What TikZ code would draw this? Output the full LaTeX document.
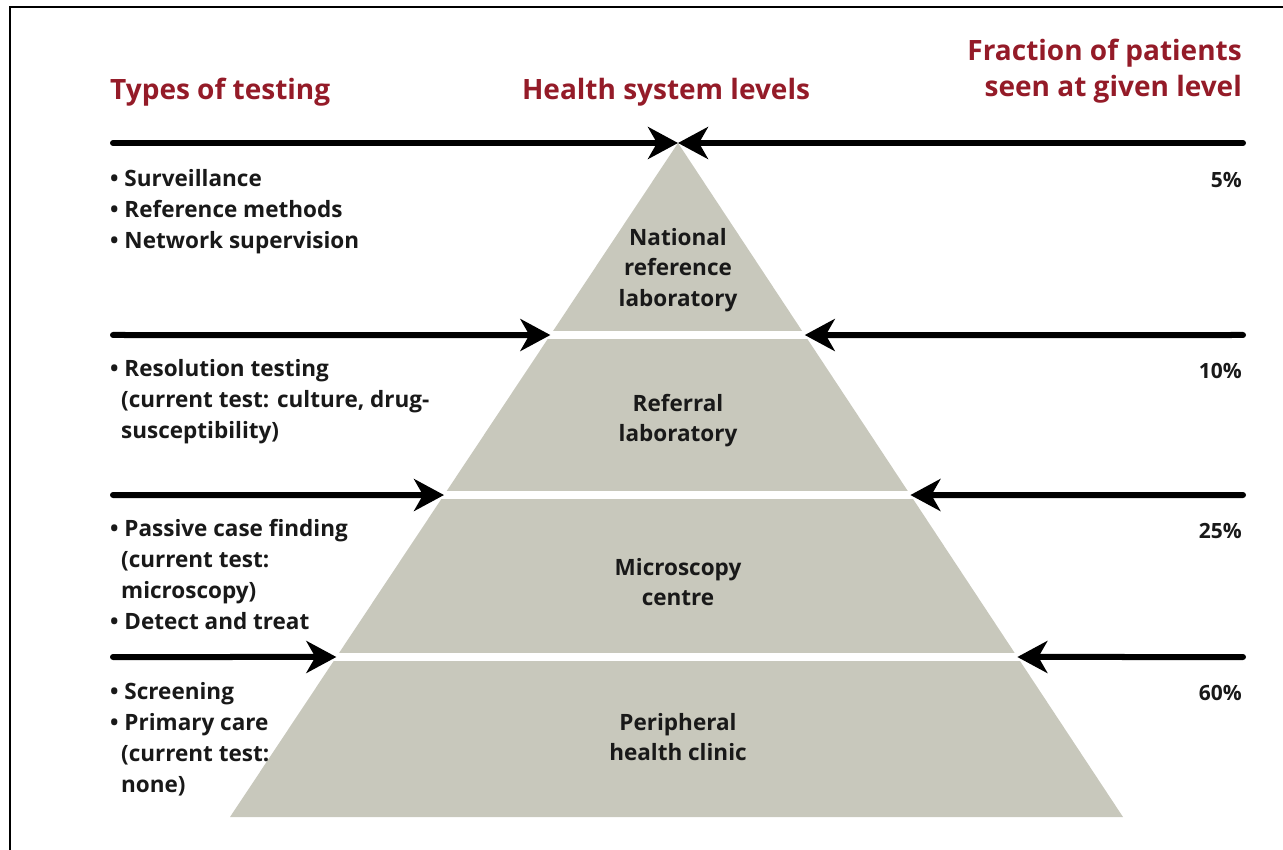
\documentclass[tikz,border=0pt]{standalone}
\usepackage{fontspec}
\setmainfont{Open Sans}
\usetikzlibrary{arrows.meta,calc}
\definecolor{headred}{RGB}{148,27,40}
\definecolor{pyrfill}{RGB}{200,200,188}
\definecolor{txt}{RGB}{25,25,25}
\begin{document}
\begin{tikzpicture}[x=1pt,y=-1pt,
  heading/.style={inner sep=0pt,text=headred,font=\bfseries\fontsize{28}{36.5}\selectfont},
  body/.style={inner sep=0pt,text=txt,align=left,font=\bfseries\fontsize{22.5}{31}\selectfont},
  level/.style={inner sep=0pt,text=txt,align=center,font=\bfseries\fontsize{22.5}{30.5}\selectfont},
  pct/.style={inner sep=0pt,text=txt,anchor=base east,font=\bfseries\fontsize{21}{31}\selectfont},
  flow/.style={line width=6pt,line cap=round,-{Stealth[length=30pt,width=32pt,inset=9pt]}},
  frame/.style={line width=2pt}]
\useasboundingbox (0,0) rectangle (1283,850);
% frame
\draw[frame] (10,850) -- (10,7) -- (1283,7);
% pyramid
\coordinate (apex) at (678,143);
\coordinate (bl) at (230,817);
\coordinate (br) at (1123,817);
\fill[pyrfill] (apex) -- (bl) -- (br) -- cycle;
\fill[white] (200,331) rectangle (1160,339);
\fill[white] (200,491) rectangle (1160,499);
\fill[white] (200,653) rectangle (1160,661);
% arrow ends
\coordinate (la) at (113,143); \coordinate (ra) at (1243,143);
\coordinate (lb) at (113,335); \coordinate (rb) at (1243,335);
\coordinate (lc) at (113,495); \coordinate (rc) at (1243,495);
\coordinate (ld) at (113,657); \coordinate (rd) at (1243,657);
\coordinate (tlb) at ($(apex)!0.2849!(bl)$);
\coordinate (trb) at ($(apex)!0.2849!(br)$);
\coordinate (tlc) at ($(apex)!0.5223!(bl)$);
\coordinate (trc) at ($(apex)!0.5223!(br)$);
\coordinate (tld) at ($(apex)!0.7626!(bl)$);
\coordinate (trd) at ($(apex)!0.7626!(br)$);
\draw[flow] (la) -- (apex);
\draw[flow] (ra) -- (apex);
\draw[flow] (lb) -- (tlb);
\draw[flow] (rb) -- (trb);
\draw[flow] (lc) -- (tlc);
\draw[flow] (rc) -- (trc);
\draw[flow] (ld) -- (tld);
\draw[flow] (rd) -- (trd);
% headings
\node[heading,anchor=base west] (h1) at (110,100) {Types of testing};
\node[heading,anchor=base] (h2) at (666,100) {Health system levels};
\node[heading,anchor=base east,align=right] (h3) at (1242,97) {Fraction of patients\\seen at given level};
% left texts
\node[body,anchor=north west] (t1) at (110,169) {• Surveillance\\• Reference methods\\• Network supervision};
\node[body,anchor=north west] (t2) at (110,359) {• Resolution testing\\\hspace{11pt}(current test: culture, drug-\\\hspace{11pt}susceptibility)};
\node[body,anchor=north west] (t3) at (110,519) {• Passive case finding\\\hspace{11pt}(current test:\\\hspace{11pt}microscopy)\\• Detect and treat};
\node[body,anchor=north west] (t4) at (110,682) {• Screening\\• Primary care\\\hspace{11pt}(current test:\\\hspace{11pt}none)};
% percentages
\node[pct] (p1) at (1242,188) {5\%};
\node[pct] (p2) at (1242,378) {10\%};
\node[pct] (p3) at (1242,538) {25\%};
\node[pct] (p4) at (1242,700) {60\%};
% level labels
\node[level,anchor=north] (n1) at (678,228) {National\\reference\\laboratory};
\node[level,anchor=north] (n2) at (678,394) {Referral\\laboratory};
\node[level,anchor=north] (n3) at (678,558) {Microscopy\\centre};
\node[level,anchor=north] (n4) at (678,713) {Peripheral\\health clinic};
\end{tikzpicture}
\end{document}
